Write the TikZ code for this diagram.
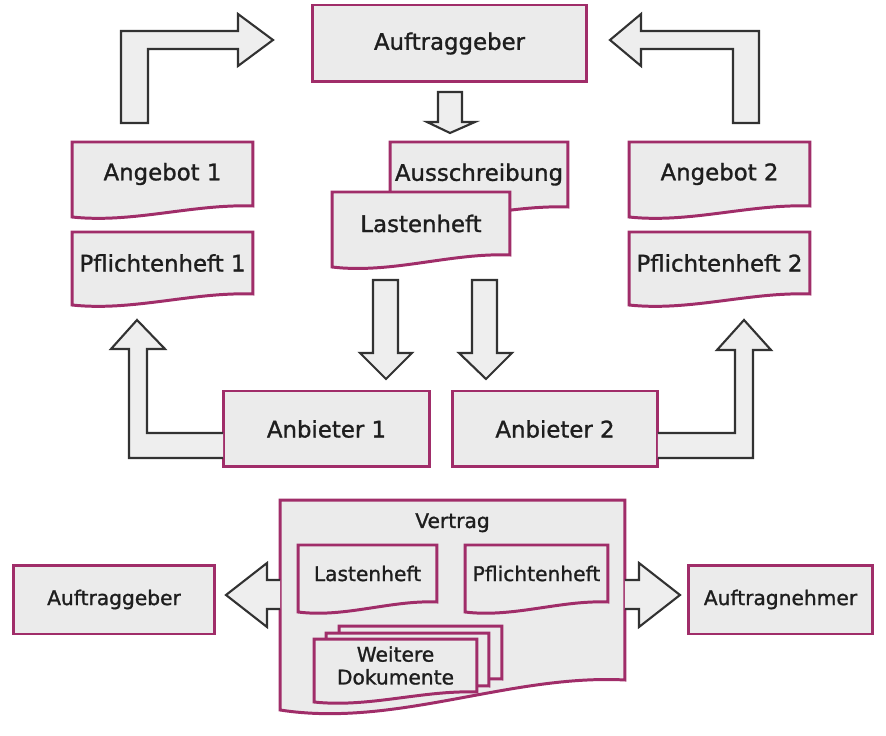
\documentclass[tikz,border=0pt]{standalone}
\usepackage{fontspec}
\setmainfont{DejaVu Sans}[RawFeature={embolden=1.2}]
\usetikzlibrary{calc,backgrounds}

\definecolor{rim}{RGB}{160,45,105}
\definecolor{paper}{RGB}{235,235,235}
\definecolor{arrowfill}{RGB}{238,238,238}
\definecolor{arrowline}{RGB}{50,50,50}
\definecolor{ink}{RGB}{30,30,30}

% outline of a document (wavy bottom) around a node
\newcommand\docoutline[3][11]{%
  \filldraw[docline] ($(#2.north west)+#3$) -- ($(#2.north east)+#3$) -- ($(#2.south east)+#3$)
    .. controls ($(#2.south east)!1/3!(#2.south west)+#3+(0,-0.2*#1)$)
    and ($(#2.south west)!1/3!(#2.south east)+#3+(0,1.6*#1)$)
    .. ($(#2.south west)+#3+(0,#1)$) -- cycle;}

\begin{document}
\begin{tikzpicture}[
		x=0.02cm, y=-0.02cm,
		box/.style={rectangle, draw=rim, fill=paper, line width=1.7pt, outer sep=0pt, align=center, text=ink, font=\fontsize{13}{15}\selectfont},
		smallbox/.style={box, font=\fontsize{11.5}{13}\selectfont},
		doc/.style={rectangle, outer sep=0pt, inner sep=0pt, align=center, text=ink, font=\fontsize{13}{15}\selectfont},
		smalldoc/.style={doc, font=\fontsize{11.5}{13}\selectfont},
		docline/.style={draw=rim, fill=paper, line width=1.7pt},
		blockarrow/.style={draw=arrowline, fill=arrowfill, line width=1.2pt, line join=miter}
	]
	\useasboundingbox (0,0) rectangle (886,736);

	% Ausschreibung
	\node[box, minimum width=5.5cm, minimum height=1.54cm] (agtop) at (449.5,43.5) {Auftraggeber};
	\node[doc, minimum width=3.56cm, minimum height=1.3cm] (aus) at (479,174.5) {Ausschreibung};
	\node[doc, minimum width=3.56cm, minimum height=1.26cm] (last) at (421,223.5) {Lastenheft};
	\node[doc, minimum width=3.62cm, minimum height=1.28cm] (ang1) at (162.5,174) {Angebot 1};
	\node[doc, minimum width=3.62cm, minimum height=1.24cm] (pfl1) at (162.5,263) {Pflichtenheft 1};
	\node[doc, minimum width=3.62cm, minimum height=1.28cm] (ang2) at (719.5,174) {Angebot 2};
	\node[doc, minimum width=3.62cm, minimum height=1.24cm] (pfl2) at (719.5,263) {Pflichtenheft 2};
	\node[box, minimum width=4.14cm, minimum height=1.52cm] (anb1) at (326.5,429) {Anbieter 1};
	\node[box, minimum width=4.12cm, minimum height=1.52cm] (anb2) at (555,429) {Anbieter 2};

	% Vertrag
	\node[smalldoc, minimum width=6.9cm, minimum height=3.6cm,
		label={[anchor=north, yshift=-4pt, text=ink, font=\fontsize{11.5}{13}\selectfont]north:Vertrag}] (vertrag) at (452.5,590) {};
	\node[smalldoc, minimum width=2.78cm, minimum height=1.14cm] (vlast) at (367.5,573.5) {Lastenheft};
	\node[smalldoc, minimum width=2.86cm, minimum height=1.14cm] (vpfl) at (536.5,573.5) {Pflichtenheft};
	\node[smalldoc, minimum width=3.26cm, minimum height=1.06cm] (weitere) at (395.5,665.5) {Weitere\\Dokumente};
	\node[smallbox, minimum width=4.04cm, minimum height=1.38cm] (agbot) at (114,599.5) {Auftraggeber};
	\node[smallbox, minimum width=3.7cm, minimum height=1.38cm] (an) at (780.5,599.5) {Auftragnehmer};

	\begin{pgfonlayer}{background}
		\docoutline{aus}{(0,0)}
		\docoutline[12]{last}{(0,0)}
		\docoutline{ang1}{(0,0)}
		\docoutline{pfl1}{(0,0)}
		\docoutline{ang2}{(0,0)}
		\docoutline{pfl2}{(0,0)}
		\docoutline[30]{vertrag}{(0,0)}
		\docoutline[10]{vlast}{(0,0)}
		\docoutline[10]{vpfl}{(0,0)}
		\docoutline[10]{weitere}{(25,-13)}
		\docoutline[10]{weitere}{(12,-6)}
		\docoutline[10]{weitere}{(0,0)}
	\end{pgfonlayer}

	% Pfeile
	\draw[blockarrow] (121,123) -- (121,31) -- (238,31) -- (238,14) -- (273,40) -- (238,66) -- (238,49) -- (148,49) -- (148,123) -- cycle;
	\draw[blockarrow] (759,123) -- (759,31) -- (641,31) -- (641,14) -- (610,40) -- (641,66) -- (641,49) -- (733,49) -- (733,123) -- cycle;
	\draw[blockarrow] (438,92) -- (462,92) -- (462,122) -- (475,122) -- (450,133) -- (427,122) -- (438,122) -- cycle;
	\draw[blockarrow] (373,280) -- (398,280) -- (398,353) -- (412,353) -- (386,379) -- (360,353) -- (373,353) -- cycle;
	\draw[blockarrow] (472,280) -- (497,280) -- (497,353) -- (512,353) -- (486,379) -- (459,353) -- (472,353) -- cycle;
	\draw[blockarrow] ($(anb1.west)+(0,29)$) -- (129,458) -- (129,349) -- (111,349) -- (137,320) -- (165,349) -- (147,349) -- (147,433) -- ($(anb1.west)+(0,4)$);
	\draw[blockarrow] ($(anb2.east)+(0,4)$) -- (735,433) -- (735,350) -- (717,350) -- (744,320) -- (771,350) -- (753,350) -- (753,458) -- ($(anb2.east)+(0,29)$);
	\draw[blockarrow] ($(vertrag.west)+(0,-10)$) -- (267,580) -- (267,563) -- (226,595) -- (267,627) -- (267,609) -- ($(vertrag.west)+(0,19)$);
	\draw[blockarrow] ($(vertrag.east)+(0,-10)$) -- (639,580) -- (639,563) -- (680,595) -- (639,627) -- (639,609) -- ($(vertrag.east)+(0,19)$);
\end{tikzpicture}
\end{document}
